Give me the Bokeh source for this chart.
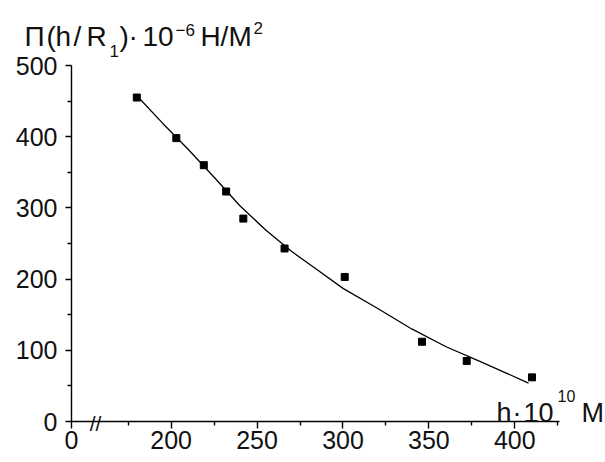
from bokeh.plotting import figure
from bokeh.models import FixedTicker, Label, Range1d, LinearAxis
from bokeh.embed import file_html
from bokeh.resources import INLINE

# ---- data ----
h_points = [180, 203, 219, 232, 242, 266, 301, 346, 372, 410]
p_points = [455, 398, 360, 323, 285, 243, 203, 112, 85, 62]

h_curve = [181, 195, 210, 225, 240, 255, 270, 285, 300, 320, 340, 360, 380, 395, 408]
p_curve = [455, 419, 382, 343, 303, 269, 239, 213, 187, 159, 130, 105, 84, 68, 54]

x_break = 142          # start of the broken axis, labelled "0"
x_end = 426
x_major = [200, 250, 300, 350, 400]
x_minor = [175, 225, 275, 325, 375, 425]
y_major = [0, 100, 200, 300, 400, 500]
y_minor = [50, 150, 250, 350, 450]

# ---- geometry (pixel positions of the axes box) ----
W, H = 605, 462
L, R, T, B = 71, 559, 65, 421
X0, X1 = x_break, x_end
Y0, Y1 = 0, 500

def px2x(px):
    return X0 + (px - L) * (X1 - X0) / (R - L)

def py2y(py):
    return Y0 + (B - py) * (Y1 - Y0) / (B - T)

p = figure(width=W, height=H, output_backend="svg", toolbar_location=None,
           x_range=Range1d(px2x(0), px2x(W)), y_range=Range1d(py2y(H), py2y(0)),
           x_axis_location=None, y_axis_location=None,
           min_border=0)
p.outline_line_color = None
p.grid.visible = False
p.background_fill_color = "white"
p.border_fill_color = "white"

FONT = "Liberation Sans"

xaxis = LinearAxis(fixed_location=Y0, bounds=(X0, X1))
yaxis = LinearAxis(fixed_location=X0, bounds=(Y0, Y1))

for ax in (xaxis, yaxis):
    ax.axis_line_color = "black"
    ax.axis_line_width = 1.4
    ax.major_tick_line_color = "black"
    ax.minor_tick_line_color = "black"
    ax.major_tick_line_width = 1.4
    ax.minor_tick_line_width = 1.4
    ax.major_tick_in = 0
    ax.minor_tick_in = 0
    ax.major_label_text_font = FONT
    ax.major_label_text_font_size = "25px"
    ax.major_label_text_color = "#111111"

xaxis.ticker = FixedTicker(ticks=[x_break] + x_major, minor_ticks=x_minor)
xaxis.major_label_overrides = {x_break: "0"}
xaxis.major_tick_out = 7
xaxis.minor_tick_out = 4
xaxis.major_label_standoff = 2

yaxis.ticker = FixedTicker(ticks=y_major, minor_ticks=y_minor)
yaxis.major_tick_out = 6
yaxis.minor_tick_out = 4
yaxis.major_label_standoff = 8

p.add_layout(xaxis, "below")
p.add_layout(yaxis, "left")

p.line(h_curve, p_curve, line_color="black", line_width=1.3)
p.scatter(h_points, p_points, marker="square", size=7, color="black")

def add_text(text, px, py, size, align="left", baseline="alphabetic"):
    p.add_layout(Label(x=px2x(px), y=py2y(py), text=text,
                       text_font=FONT, text_font_size=f"{size}px",
                       text_color="#111111", text_align=align,
                       text_baseline=baseline))

# y-axis title: Π(h/R1)·10^-6 Н/М^2
title_parts = [
    ("Π", 24, 36, 28), ("(", 46, 36, 28), ("h", 55, 36, 28), ("/", 73, 36, 28),
    ("R", 86, 36, 28), ("1", 109, 50, 17), (")", 119, 36, 28), ("·", 128, 36, 28),
    ("10", 142, 36, 28), ("−6", 175, 29, 17), ("Н", 200, 36, 28), ("/", 220, 36, 28),
    ("М", 228, 36, 28), ("2", 253, 27, 17),
]
for t, x, y, s in title_parts:
    add_text(t, x, y, s)

# x-axis title: h·10^10 М
xlab_parts = [
    ("h", 496, 412, 27), ("·", 512, 412, 27), ("10", 523, 412, 27),
    ("10", 557, 395, 16), ("М", 581, 412, 27),
]
for t, x, y, s in xlab_parts:
    add_text(t, x, y, s)

# axis break mark
add_text("//", 95, 423, 21, align="center", baseline="middle")

open("out.html", "w").write(file_html(p, INLINE))
